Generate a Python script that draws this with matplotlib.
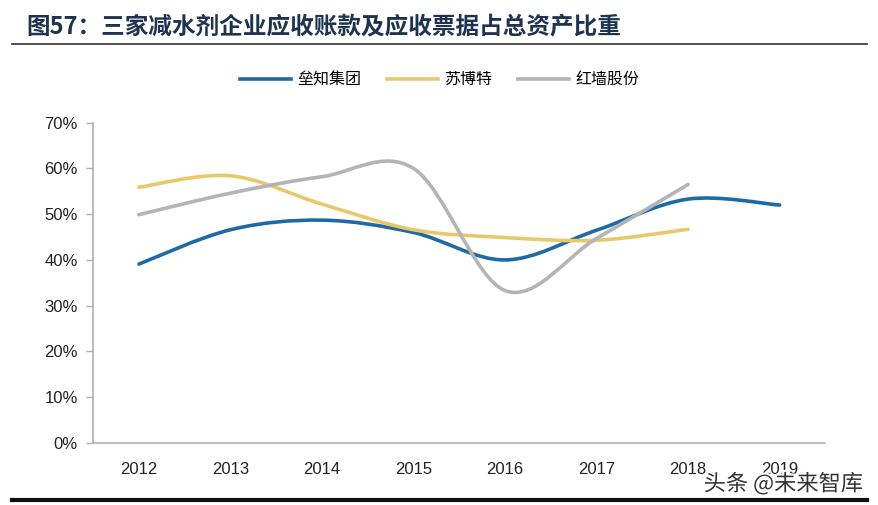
import matplotlib
matplotlib.use("Agg")
import matplotlib.pyplot as plt
import matplotlib.patheffects as pe
from matplotlib.path import Path
from matplotlib.patches import PathPatch
import numpy as np

plt.rcParams['font.family'] = ['Liberation Sans', 'Noto Sans CJK SC', 'DejaVu Sans']

years = ['2012', '2013', '2014', '2015', '2016', '2017', '2018', '2019']
lzjt = [39.1, 46.6, 48.7, 46.0, 40.0, 46.5, 53.3, 52.0]   # 垒知集团
sbt = [55.9, 58.4, 52.2, 46.6, 44.9, 44.3, 46.7]          # 苏博特
hqgf = [49.9, 54.6, 58.2, 60.0, 33.3, 44.7, 56.5]         # 红墙股份

series = [('垒知集团', lzjt, '#1f6aa5'),
          ('苏博特', sbt, '#e8c96a'),
          ('红墙股份', hqgf, '#b4b4b4')]


def smooth_path(x, y):
    # excel style smoothed line: bezier segments with catmull-rom handles
    pts = np.column_stack([x, y])
    n = len(pts)
    verts = [pts[0]]
    codes = [Path.MOVETO]
    for i in range(n - 1):
        p0 = pts[max(i - 1, 0)]
        p1 = pts[i]
        p2 = pts[i + 1]
        p3 = pts[min(i + 2, n - 1)]
        c1 = p1 + (p2 - p0) / 6.0
        c2 = p2 - (p3 - p1) / 6.0
        verts += [c1, c2, p2]
        codes += [Path.CURVE4] * 3
    return Path(verts, codes)


fig = plt.figure(figsize=(8.79, 5.05), dpi=100)
ax = fig.add_axes([0.106, 0.123, 0.833, 0.634])

for name, vals, color in series:
    xs = np.arange(len(vals))
    patch = PathPatch(smooth_path(xs, vals), facecolor='none', edgecolor=color,
                      lw=2.6, capstyle='round', joinstyle='round')
    ax.add_patch(patch)
    ax.plot([], [], color=color, lw=2.6, label=name)

ax.set_xlim(-0.5, len(years) - 0.5)
ax.set_ylim(0, 70)
ax.set_xticks(range(len(years)))
ax.set_xticklabels(years, fontsize=12)
ax.set_yticks(range(0, 71, 10))
ax.set_yticklabels(['%d%%' % v for v in range(0, 71, 10)], fontsize=12)
ax.tick_params(axis='x', length=0, pad=14, colors='#222222')
ax.tick_params(axis='y', length=5, width=1, color='#b0b0b0', pad=6, labelcolor='#222222')
for s in ['top', 'right']:
    ax.spines[s].set_visible(False)
for s in ['left', 'bottom']:
    ax.spines[s].set_color('#b0b0b0')
    ax.spines[s].set_linewidth(1.2)

leg = fig.legend(loc='center', bbox_to_anchor=(0.5, 0.842), ncol=3, frameon=False,
                 prop={'family': ['Noto Sans CJK SC'], 'size': 11.5},
                 handlelength=3.2, columnspacing=1.6, handletextpad=0.4)

fig.text(0.03, 0.945, '图57：三家减水剂企业应收账款及应收票据占总资产比重',
         fontsize=17, fontweight='bold', color='#1f3350', va='center',
         family=['Noto Sans CJK SC'])
fig.add_artist(plt.Line2D([0.014, 0.986], [0.912, 0.912], color='#333333', lw=1.2))
fig.add_artist(plt.Line2D([0.014, 0.986], [0.01, 0.01], color='#111111', lw=3))

fig.text(0.982, 0.042, '头条 @未来智库', fontsize=16, color='#333333', ha='right',
         va='center', family=['Noto Sans CJK SC'],
         path_effects=[pe.withStroke(linewidth=3, foreground='white')])

fig.savefig('out.png', dpi=100)
